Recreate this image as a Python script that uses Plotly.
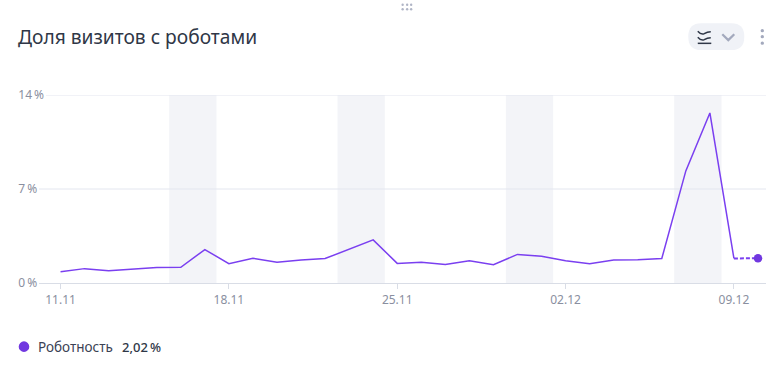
import plotly.graph_objects as go
from datetime import datetime, timedelta

TITLE = "Доля визитов с роботами"
SERIES_NAME = "Роботность"
SERIES_TOTAL = "2,02\u2009%"

dates = ["2019-11-11","2019-11-12","2019-11-13","2019-11-14","2019-11-15","2019-11-16","2019-11-17",
         "2019-11-18","2019-11-19","2019-11-20","2019-11-21","2019-11-22","2019-11-23","2019-11-24",
         "2019-11-25","2019-11-26","2019-11-27","2019-11-28","2019-11-29","2019-11-30","2019-12-01",
         "2019-12-02","2019-12-03","2019-12-04","2019-12-05","2019-12-06","2019-12-07","2019-12-08",
         "2019-12-09"]
values = [0.84,1.07,0.92,1.05,1.16,1.17,2.49,
          1.44,1.84,1.54,1.72,1.82,2.50,3.21,
          1.46,1.55,1.38,1.65,1.36,2.13,2.00,
          1.65,1.44,1.72,1.74,1.82,8.35,12.66,
          1.83]
partial_dates = ["2019-12-09","2019-12-10"]
partial_values = [1.83,1.84]
weekend_starts = ["2019-11-16","2019-11-23","2019-11-30","2019-12-07"]
x_ticks = ["2019-11-11","2019-11-18","2019-11-25","2019-12-02","2019-12-09"]
x_labels = ["11.11","18.11","25.11","02.12","09.12"]
y_ticks = [0,7,14]
y_labels = ["0\u2009%\u2007","7\u2009%\u2007","14\u2009%"]

W,H = 782,372
L,R,T,B = 39.0,765.7,95.0,283.5
FONT = "Noto Sans"
PURPLE = "#7a3ff0"
TICK = "#8a8fa0"
def xp(px): return (px-L)/(R-L)
def yp(py): return 1-(py-T)/(B-T)

def day_shift(d,hours):
    return (datetime.strptime(d,"%Y-%m-%d")+timedelta(hours=hours)).strftime("%Y-%m-%d %H:%M")

fig = go.Figure()
fig.add_trace(go.Scatter(x=dates,y=values,mode="lines",line=dict(color=PURPLE,width=1.5),showlegend=False))
fig.add_trace(go.Scatter(x=partial_dates,y=partial_values,mode="lines",
                         line=dict(color=PURPLE,width=2,dash="4px,2px"),showlegend=False))
fig.add_trace(go.Scatter(x=partial_dates[-1:],y=partial_values[-1:],mode="markers",
                         marker=dict(color="#7138e0",size=8.5),showlegend=False))

shapes=[]
for d in weekend_starts:
    shapes.append(dict(type="rect",xref="x",yref="paper",x0=day_shift(d,-11.6),x1=day_shift(d,35.6),y0=0,y1=1,
                       fillcolor="#f3f4f8",line_width=0,layer="below"))
for v in y_ticks[1:]:
    x0 = xp(46) if v==14 else 0
    shapes.append(dict(type="line",xref="paper",yref="y",x0=x0,x1=1,y0=v,y1=v,
                       line=dict(color="#e3e6ef",width=1),layer="below"))

def circ(cx,cy,r,color):
    return dict(type="circle",xref="paper",yref="paper",x0=xp(cx-r),x1=xp(cx+r),y0=yp(cy+r),y1=yp(cy-r),
                fillcolor=color,line_width=0)
def path(pts,color,width):
    return dict(type="path",xref="paper",yref="paper",path=pts,line=dict(color=color,width=width))
def P(x,y): return f"{xp(x):.5f},{yp(y):.5f}"

# legend dot
shapes.append(circ(24,347.3,5.3,"#7138e0"))
# toggle pill
shapes.append(dict(type="path",xref="paper",yref="paper",fillcolor="#f0f2f7",line_width=0,
    path=f"M{P(701,23)} L{P(731,23)} Q{P(744,23)} {P(744,36.5)} Q{P(744,50)} {P(731,50)} L{P(701,50)} Q{P(688,50)} {P(688,36.5)} Q{P(688,23)} {P(701,23)} Z"))
# wave icon
for y in (32,38):
    shapes.append(path(f"M{P(697.5,y-1)} Q{P(701,y+3)} {P(704,y+1.5)} Q{P(707,y-0.5)} {P(710.5,y-0.5)}","#2f3747",1.5))
shapes.append(path(f"M{P(697.5,43.2)} L{P(711,43.2)}","#2f3747",1.5))
# chevron
shapes.append(path(f"M{P(722,34)} L{P(728,40)} L{P(734,34)}","#a3a9bd",2.2))
# kebab
for y in (30.5,36.5,43):
    shapes.append(circ(762,y,1.7,"#a3a9bd"))
# drag handle
for y in (4.5,9):
    for x in (402.5,407,411):
        shapes.append(circ(x,y,1.2,"#b0b5c6"))

ann=[
 dict(text=TITLE,xref="paper",yref="paper",x=xp(16.5),y=yp(36),xanchor="left",yanchor="middle",showarrow=False,
      font=dict(family=FONT,size=19.2,color="#2f3747")),
 dict(text=SERIES_NAME,xref="paper",yref="paper",x=xp(36.3),y=yp(348),xanchor="left",yanchor="middle",showarrow=False,
      font=dict(family=FONT,size=13.5,color="#3b4254")),
 dict(text=SERIES_TOTAL,xref="paper",yref="paper",x=xp(120),y=yp(348),xanchor="left",yanchor="middle",showarrow=False,
      font=dict(family=FONT,size=13,color="#2f3747",weight=500)),
]

fig.update_layout(width=W,height=H,margin=dict(l=L,r=W-R,t=T,b=H-B,pad=0,autoexpand=False),
    paper_bgcolor="white",plot_bgcolor="white",showlegend=False,shapes=shapes,annotations=ann,
    font=dict(family=FONT,size=12,color=TICK),
    xaxis=dict(type="date",range=[day_shift("2019-11-11",-21.5),day_shift("2019-11-11",704)],
               tickvals=x_ticks,ticktext=x_labels,showgrid=False,showline=True,linecolor="#d9dde6",linewidth=1,
               ticks="outside",ticklen=5,tickcolor="#d9dde6",ticklabelstandoff=1,
               tickfont=dict(family=FONT,size=12,color=TICK),
               zeroline=False,fixedrange=True),
    yaxis=dict(range=[0,14],tickvals=y_ticks,ticktext=y_labels,showgrid=False,zeroline=False,showline=False,
               ticks="",ticklabelstandoff=-6,tickfont=dict(family=FONT,size=12,color=TICK),fixedrange=True))

fig.write_html("out.html",config=dict(displayModeBar=False),
               post_script="document.body.style.margin='0';document.body.style.overflow='hidden';")
